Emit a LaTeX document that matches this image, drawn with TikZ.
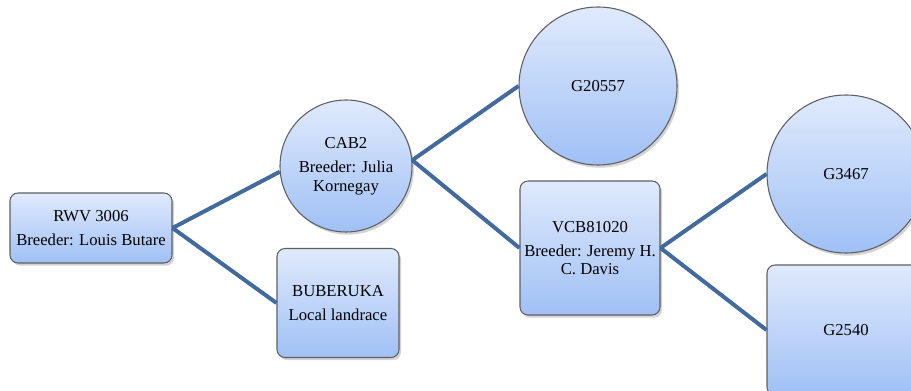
\documentclass[tikz,border=0pt]{standalone}
\usepackage{fontspec}
\setmainfont{Liberation Serif}
\usetikzlibrary{shadows}

\definecolor{linkblue}{RGB}{66,106,156}
\definecolor{boxtop}{RGB}{224,234,252}
\definecolor{boxbottom}{RGB}{160,192,245}
\definecolor{boxline}{RGB}{95,95,100}

\begin{document}
\begin{tikzpicture}[x=0.75pt,y=-0.75pt,
  plant/.style={draw=boxline,line width=0.8pt,top color=boxtop,bottom color=boxbottom,
    drop shadow={opacity=0.35,shadow xshift=1.5pt,shadow yshift=-2pt},
    align=center,font=\fontsize{12.5}{14}\selectfont,inner sep=2pt},
  parentbox/.style={plant,rectangle,rounded corners=6pt},
  parentdot/.style={plant,circle},
  link/.style={linkblue,line width=3pt}]
\useasboundingbox (0,0) rectangle (911,391);
\clip (0,0) rectangle (911,391);
% cultivars
\node[parentbox,minimum width=121.5pt,minimum height=52.5pt] (rwv) at (91,228) {RWV 3006\\[4pt]Breeder: Louis Butare};
\node[parentdot,minimum size=99pt] (cab) at (346,166) {CAB2\\[4pt]Breeder: Julia\\Kornegay};
\node[parentbox,minimum width=91.5pt,minimum height=81.75pt] (bub) at (338,303) {BUBERUKA\\[4pt]Local landrace};
\node[parentdot,minimum size=118.5pt] (g20557) at (598,86) {G20557};
\node[parentbox,minimum width=105pt,minimum height=100.5pt] (vcb) at (590,248) {VCB81020\\[4pt]Breeder: Jeremy H.\\C. Davis};
\node[parentdot,minimum size=118.5pt] (g3467) at (846,174) {G3467};
\node[parentbox,minimum width=118.5pt,minimum height=97.5pt] (g2540) at (846,330) {G2540};
% pedigree links
\draw[link] (rwv.east) -- (cab.185);
\draw[link] (rwv.east) -- (bub.west);
\draw[link] (cab.5) -- (g20557.west);
\draw[link] (cab.5) -- (vcb.west);
\draw[link] (vcb.east) -- (g3467.west);
\draw[link] (vcb.east) -- (g2540.west);
\end{tikzpicture}
\end{document}
